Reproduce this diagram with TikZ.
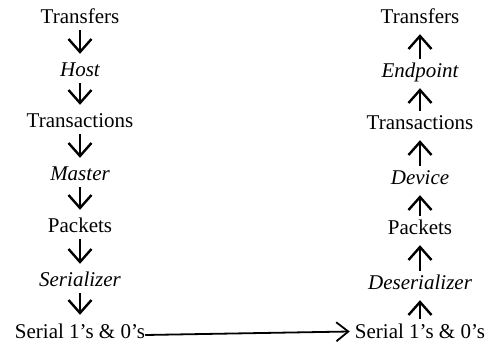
\documentclass[tikz,border=0pt]{standalone}
\usepackage{fontspec}
\setmainfont{Liberation Serif}
\usetikzlibrary{arrows.meta,calc}
\begin{document}
\begin{tikzpicture}[x=1pt,y=1pt,
  lbl/.style={inner xsep=0pt, inner ysep=0pt, text height=14pt, text depth=4pt,
    font=\fontsize{21}{25}\selectfont, anchor=base},
  role/.style={lbl, font=\fontsize{21}{25}\selectfont\itshape},
  downarr/.style={-{Straight Barb[length=13pt,width=23pt]}, line width=2.4pt,
    shorten <=2pt, shorten >=9pt},
  uparr/.style={-{Straight Barb[length=13pt,width=23pt]}, line width=2.4pt,
    shorten <=5pt, shorten >=6pt},
  wire/.style={-{Straight Barb[length=12pt,width=19pt]}, line width=1.8pt}]
\useasboundingbox (0,0) rectangle (492,345);

% sending side
\node[lbl]  (l1) at (80,321) {Transfers};
\node[role] (l2) at (80,268) {Host};
\node[lbl]  (l3) at (80,217) {Transactions};
\node[role] (l4) at (80,164) {Master};
\node[lbl]  (l5) at (80,112) {Packets};
\node[role] (l6) at (80,58)  {Serializer};
\node[lbl]  (l7) at (80,7)   {Serial 1’s \& 0’s};

% receiving side
\node[lbl]  (r1) at (420,321) {Transfers};
\node[role] (r2) at (420,267) {Endpoint};
\node[lbl]  (r3) at (420,215) {Transactions};
\node[role] (r4) at (420,160) {Device};
\node[lbl]  (r5) at (420,110) {Packets};
\node[role] (r6) at (420,55)  {Deserializer};
\node[lbl]  (r7) at (420,7)   {Serial 1’s \& 0’s};

% downward flow
\draw[downarr] (l1.south) -- (l2.north);
\draw[downarr] (l2.south) -- (l3.north);
\draw[downarr] (l3.south) -- (l4.north);
\draw[downarr] (l4.south) -- (l5.north);
\draw[downarr] (l5.south) -- (l6.north);
\draw[downarr] (l6.south) -- (l7.north);

% upward flow
\draw[uparr] (r7.north) -- (r6.south);
\draw[uparr] (r6.north) -- (r5.south);
\draw[uparr] (r5.north) -- (r4.south);
\draw[uparr] (r4.north) -- (r3.south);
\draw[uparr] (r3.north) -- (r2.south);
\draw[uparr] (r2.north) -- (r1.south);

% the bit stream between the two sides
\draw[wire] ($(l7.base east)+(0,3)$) -- ($(r7.base west)+(-5,6.5)$);
\end{tikzpicture}
\end{document}
